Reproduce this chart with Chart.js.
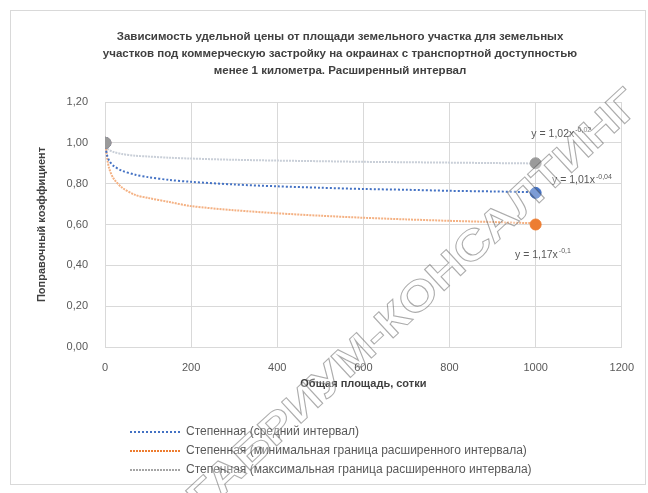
<!DOCTYPE html>
<html><head><meta charset="utf-8">
<script src="https://cdn.jsdelivr.net/npm/chart.js@4"></script>
<style>html,body{margin:0;padding:0;background:#fff;}canvas{display:block;}</style>
</head><body>
<canvas id="c" width="648" height="493"></canvas>
<script>
const titleLines = [
  "Зависимость удельной цены от площади земельного участка для земельных",
  "участков под коммерческую застройку на окраинах с транспортной доступностью",
  "менее 1 километра. Расширенный интервал"
];
const xAxisTitle = "Общая площадь, сотки";
const yAxisTitle = "Поправочный коэффициент";
const seriesLabels = [
  "Степенная (средний интервал)",
  "Степенная (минимальная граница расширенного интервала)",
  "Степенная (максимальная граница расширенного интервала)"
];
const xTickLabels = ["0","200","400","600","800","1000","1200"];
const yTickLabels = ["0,00","0,20","0,40","0,60","0,80","1,00","1,20"];

// trendline readings
const trendX    = [1, 2, 5, 10, 20, 40, 70, 100, 150, 200, 300, 400, 500, 600, 700, 800, 900, 1000];
const meanTrend = [1.00, 0.973, 0.938, 0.912, 0.887, 0.863, 0.844, 0.832, 0.818, 0.809, 0.796, 0.787, 0.780, 0.774, 0.770, 0.765, 0.762, 0.758];
const minTrend  = [1.00, 0.985, 0.925, 0.873, 0.825, 0.780, 0.745, 0.730, 0.710, 0.690, 0.670, 0.655, 0.643, 0.633, 0.625, 0.618, 0.612, 0.606];
const maxTrend  = [1.00, 0.990, 0.975, 0.965, 0.955, 0.945, 0.937, 0.933, 0.927, 0.923, 0.917, 0.913, 0.910, 0.907, 0.905, 0.903, 0.901, 0.899];

// data points
const pointX     = [1, 1000];
const meanPoints = [1.00, 0.755];
const minPoints  = [1.00, 0.60];
const maxPoints  = [1.00, 0.90];

// trendline equations
const eqText = [
  ["y = 1,02x", "-0,02"],
  ["y = 1,01x", "-0,04"],
  ["y = 1,17x", "-0,1"]
];
const eqPos = [[990, 1.045], [1038, 0.815], [952, 0.45]];

const watermark = "ГАБРИУМ-КОНСАЛТИНГ";

const BLUE = "#4472C4", ORANGE = "#ED7D31", GRAY = "#A5A5A5";
const FONT = '"Liberation Sans", Arial, sans-serif';

function xy(xs, ys){ return xs.map((x,i)=>({x:x, y:ys[i]})); }

const extras = {
  id: "extras",
  afterDatasetsDraw(chart){
    const ctx = chart.ctx, xs = chart.scales.x, ys = chart.scales.y;
    ctx.save();
    ctx.fillStyle = "#595959";
    ctx.textBaseline = "middle";
    ctx.textAlign = "left";
    eqText.forEach((e,i)=>{
      const px = xs.getPixelForValue(eqPos[i][0]);
      const py = ys.getPixelForValue(eqPos[i][1]);
      ctx.font = "10.5px " + FONT;
      ctx.fillText(e[0], px, py);
      const w = ctx.measureText(e[0]).width;
      ctx.font = "7px " + FONT;
      ctx.fillText(e[1], px + w + 1, py - 4);
    });
    ctx.restore();
  },
  afterDraw(chart){
    const ctx = chart.ctx, area = chart.chartArea;
    ctx.save();
    // border
    ctx.strokeStyle = "#d9d9d9"; ctx.lineWidth = 1;
    ctx.strokeRect(10.5, 10.5, 635, 474);
    // title
    ctx.fillStyle = "#404040";
    ctx.textAlign = "center"; ctx.textBaseline = "middle";
    ctx.font = "bold 11.5px " + FONT;
    titleLines.forEach((t,i)=> ctx.fillText(t, 340, 37 + i*17));
    // axis titles
    ctx.fillStyle = "#404040";
    ctx.font = "bold 11px " + FONT;
    ctx.fillText(xAxisTitle, (area.left+area.right)/2, 384);
    ctx.save();
    ctx.translate(42, (area.top+area.bottom)/2);
    ctx.rotate(-Math.PI/2);
    ctx.fillText(yAxisTitle, 0, 0);
    ctx.restore();
    // legend
    const legColors = [BLUE, ORANGE, GRAY];
    const legDash = [[2,2],[2,1],[2,1]];
    ctx.textAlign = "left";
    ctx.font = "12px " + FONT;
    seriesLabels.forEach((l,i)=>{
      const y = 432 + i*19;
      ctx.strokeStyle = legColors[i]; ctx.lineWidth = 2; ctx.setLineDash(legDash[i]);
      ctx.beginPath(); ctx.moveTo(130, y); ctx.lineTo(180, y); ctx.stroke();
      ctx.setLineDash([]);
      ctx.fillStyle = "#595959";
      ctx.fillText(l, 186, y);
    });
    // watermark
    ctx.translate(415, 302);
    ctx.rotate(-42.8*Math.PI/180);
    ctx.font = "bold 42px " + FONT;
    ctx.textAlign = "center";
    const mw = ctx.measureText(watermark).width;
    ctx.scale(600/mw, 1);
    ctx.fillStyle = "rgba(255,255,255,0.3)";
    ctx.fillText(watermark, 0, 0);
    ctx.strokeStyle = "rgba(70,70,70,0.45)";
    ctx.lineWidth = 1;
    ctx.strokeText(watermark, 0, 0);
    ctx.restore();
  }
};

new Chart(document.getElementById("c"), {
  type: "scatter",
  data: {
    datasets: [
      { label: "max pts", data: xy(pointX, maxPoints), backgroundColor: "#9a9a9a", borderColor: "#9a9a9a", pointRadius: 5.5, showLine: false },
      { label: "mean pts", data: xy(pointX, meanPoints), backgroundColor: BLUE, borderColor: BLUE, pointRadius: 5.5, showLine: false },
      { label: "min pts", data: xy(pointX, minPoints), backgroundColor: ORANGE, borderColor: ORANGE, pointRadius: 5.5, showLine: false },
      { label: seriesLabels[0], data: xy(trendX, meanTrend), showLine: true, pointRadius: 0, borderColor: BLUE, borderWidth: 2, borderDash: [2,2], tension: 0.3, fill: false },
      { label: seriesLabels[1], data: xy(trendX, minTrend), showLine: true, pointRadius: 0, borderColor: "#F4B183", borderWidth: 2, borderDash: [2,1], tension: 0.3, fill: false },
      { label: seriesLabels[2], data: xy(trendX, maxTrend), showLine: true, pointRadius: 0, borderColor: "#C9CFD8", borderWidth: 2, borderDash: [2,1], tension: 0.3, fill: false }
    ]
  },
  options: {
    responsive: false,
    animation: false,
    devicePixelRatio: 1,
    layout: { padding: { left: 10, right: 26, top: 102, bottom: 0 } },
    plugins: { legend: { display: false }, title: { display: false }, tooltip: { enabled: false } },
    scales: {
      x: {
        type: "linear", min: 0, max: 1200,
        afterFit: s => { s.height = 146; },
        grid: { color: "#d9d9d9", drawTicks: false },
        border: { color: "#d9d9d9" },
        ticks: { stepSize: 200, padding: 14, color: "#595959", font: { size: 11, family: FONT },
                 callback: (v, i) => xTickLabels[i] }
      },
      y: {
        type: "linear", min: 0, max: 1.2,
        afterFit: s => { s.width = 95; },
        grid: { color: "#d9d9d9", drawTicks: false },
        border: { color: "#d9d9d9" },
        ticks: { stepSize: 0.2, padding: 17, color: "#595959", font: { size: 11, family: FONT },
                 callback: (v, i) => yTickLabels[i] }
      }
    }
  },
  plugins: [extras]
});
</script>
</body></html>
